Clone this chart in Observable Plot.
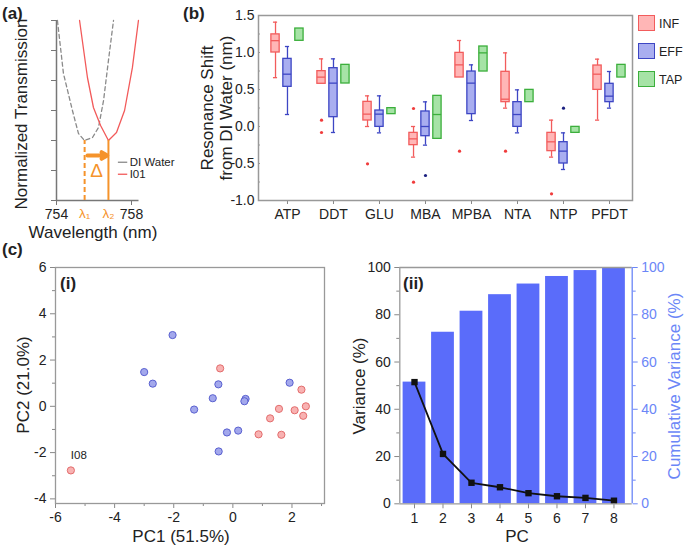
<!DOCTYPE html>
<html><head><meta charset="utf-8">
<script src="https://cdn.jsdelivr.net/npm/d3@7"></script>
<script src="https://cdn.jsdelivr.net/npm/@observablehq/plot@0.6"></script>
<style>
body{margin:0;background:#fff;}
#root{position:relative;width:685px;height:548px;overflow:hidden;font-family:"Liberation Sans",Arial,sans-serif;color:#222;background:#fff;}
.panel{position:absolute;}
.txt{position:absolute;white-space:nowrap;line-height:1;}
</style></head><body><div id="root"></div>
<script>
// ---------- Panel (a) data ----------
const wlDI  = [754.05,754.37,754.85,755.17,755.49,755.92,756.24,756.51,756.77,757.04];
const trDI  = [1.2,0.847,0.6,0.447,0.4,0.42,0.487,0.667,0.933,1.2];
const wlI01 = [755.23,755.65,755.97,756.35,756.77,757.2,757.63,758.05,758.37];
const trI01 = [1.2,0.82,0.62,0.5,0.4,0.453,0.6,0.887,1.2];
const lambda1 = 755.5, lambda2 = 756.77, dipLevel = 0.4;
const wlTicks = [754, 758];
const legendA = ["DI Water", "I01"];

// ---------- Panel (b) data ----------
const analytes = ["ATP","DDT","GLU","MBA","MPBA","NTA","NTP","PFDT"];
const groups = ["INF","EFF","TAP"];
// [whiskerLow, q1, median, q3, whiskerHigh]
const infBox = [[0.66,1.0,1.16,1.245,1.41],[0.577,0.577,0.667,0.748,0.914],[0.0,0.081,0.167,0.333,0.414],[-0.414,-0.252,-0.167,-0.086,0.0],[0.662,0.662,0.833,0.995,1.162],[0.248,0.329,0.369,0.739,0.995],[-0.414,-0.333,-0.207,-0.086,0.086],[0.086,0.495,0.707,0.824,0.91]];
const effBox = [[0.162,0.536,0.707,0.914,1.081],[-0.081,0.126,0.586,0.788,0.914],[-0.086,-0.005,0.167,0.216,0.414],[-0.252,-0.131,0.0,0.203,0.333],[0.081,0.167,0.586,0.743,0.833],[-0.086,-0.005,0.162,0.329,0.495],[-0.581,-0.5,-0.333,-0.212,-0.086],[0.248,0.329,0.41,0.577,0.743]];
const tapBox = [[1.158,1.158,null,1.324,1.324],[0.581,0.581,null,0.833,0.833],[0.167,0.167,null,0.248,0.248],[-0.167,-0.167,0.162,0.414,0.414],[0.743,0.743,0.995,1.081,1.081],[0.329,0.329,null,0.495,0.495],[-0.086,-0.086,null,-0.005,-0.005],[0.662,0.662,null,0.833,0.833]];
const infOutlierCat = ["DDT","DDT","GLU","MBA","MBA","MPBA","NTA","NTP"];
const infOutlierVal = [0.086,-0.081,-0.505,0.243,-0.752,-0.333,-0.333,-0.91];
const effOutlierCat = ["MBA","NTP"];
const effOutlierVal = [-0.662,0.248];
const shiftTicks = [-1.0,-0.5,0.0,0.5,1.0,1.5];

// ---------- Panel (c)(i) data ----------
const pc1Inf = [-0.43,2.32,2.47,2.09,2.38,1.56,1.26,0.87,1.64,-5.48];
const pc2Inf = [1.64,0.72,0.0,-0.17,-0.41,-0.11,-0.52,-1.21,-1.23,-2.77];
const pc1Eff = [-2.04,-3.0,-2.71,-0.49,-0.68,-1.31,0.43,0.39,-0.2,0.18,-0.48,1.92];
const pc2Eff = [3.08,1.48,0.98,0.95,0.35,-0.14,0.32,0.22,-1.13,-1.05,-1.95,1.02];
const labelledSample = "I08";

// ---------- Panel (c)(ii) data ----------
const pcIndex = [1,2,3,4,5,6,7,8];
const variance = [51.5,21.1,8.9,7.0,4.5,3.2,2.5,1.3];
const cumulative = [51.5,72.6,81.5,88.5,93.0,96.2,98.7,100];

// ---------- styling ----------
const FONT = '"Liberation Sans", Arial, sans-serif';
const ORANGE = "#f5932b";
const COL = {
  INF: {fill:"#ffb6b6", stroke:"#f25c5c", out:"#f03c3c"},
  EFF: {fill:"#a9aef0", stroke:"#3d46c4", out:"#1b2080"},
  TAP: {fill:"#a6e3a6", stroke:"#3caf3c", out:"#3caf3c"}
};
const root = document.getElementById("root");
function place(el, left, top) {
  el.classList.add("panel");
  el.style.left = left + "px"; el.style.top = top + "px";
  root.appendChild(el);
}
function txt(s, x, y, o = {}) {
  const d = document.createElement("div");
  d.className = "txt";
  d.textContent = s;
  d.style.left = x + "px"; d.style.top = y + "px";
  d.style.fontSize = (o.size || 17) + "px";
  if (o.bold) d.style.fontWeight = "bold";
  if (o.color) d.style.color = o.color;
  const anchor = o.anchor || "middle";
  const tx = anchor === "start" ? "0" : anchor === "end" ? "-100%" : "-50%";
  d.style.transform = `translate(${tx},-50%)`;
  if (o.rotate) { d.style.transform = `translate(-50%,-50%) rotate(-90deg)`; d.style.textAlign = "center"; d.style.lineHeight = (o.lh || 1.1); }
  root.appendChild(d);
  return d;
}
const baseStyle = {fontFamily: FONT, fontSize: "14px", color: "#222", background: "transparent", overflow: "visible"};

// ================= Panel (a) =================
{
  const di = wlDI.map((w, i) => ({w, t: trDI[i]}));
  const i01 = wlI01.map((w, i) => ({w, t: trI01[i]}));
  const p = Plot.plot({
    width: 180, height: 240,
    marginLeft: 56, marginRight: 41.5, marginTop: 20, marginBottom: 40,
    style: baseStyle,
    x: {domain: [754, 758.4]},
    y: {domain: [0, 1.2]},
    marks: [
      Plot.axisY({ticks: d3.range(0, 1.21, 0.2), tickSize: 5, tickFormat: () => "", label: null, stroke: "#777"}),
      Plot.axisX({ticks: wlTicks, tickSize: 5, tickFormat: d => String(d), label: null, stroke: "#777", fontSize: 14}),
      Plot.ruleX([754], {stroke: "#777", strokeWidth: 1.5}),
      Plot.ruleY([0], {stroke: "#777", strokeWidth: 1.5}),
      Plot.line(di, {x: "w", y: "t", stroke: "#8a8a8a", strokeWidth: 1.3, strokeDasharray: "4,3"}),
      Plot.line(i01, {x: "w", y: "t", stroke: "#f25a5a", strokeWidth: 1.3}),
      Plot.ruleX([lambda1], {y1: 0, y2: dipLevel, stroke: ORANGE, strokeWidth: 2, strokeDasharray: "5,3"}),
      Plot.ruleX([lambda2], {y1: 0, y2: dipLevel, stroke: ORANGE, strokeWidth: 2}),
      Plot.arrow([0], {x1: () => lambda1 + 0.15, x2: () => lambda2 - 0.06, y1: () => dipLevel * 0.75, y2: () => dipLevel * 0.75,
        stroke: ORANGE, strokeWidth: 4, headLength: 9, bend: 0}),
      Plot.text(["Δ"], {x: () => (lambda1 + lambda2) / 2, y: () => dipLevel * 0.5, fill: ORANGE, fontSize: 19}),
      Plot.text(["λ₁", "λ₂"], {x: (d, i) => [lambda1, lambda2][i], y: () => 0, dy: 13, fill: ORANGE, fontSize: 13.5}),
      Plot.ruleY(legendA, {y: (d, i) => [0.255, 0.175][i], x1: () => 757.3, x2: () => 757.8,
        stroke: (d, i) => ["#8a8a8a", "#f25a5a"][i], strokeDasharray: (d, i) => ["3,2", null][i], strokeWidth: 1.3}),
      Plot.text(legendA, {x: () => 757.9, y: (d, i) => [0.255, 0.175][i], text: d => d, textAnchor: "start", fontSize: 11.5, fill: "#222"})
    ]
  });
  place(p, 0, 0);
  txt("(a)", 2, 13, {bold: true, anchor: "start", size: 17});
  txt("Normalized Transmission", 22, 114, {rotate: true, size: 17});
  txt("Wavelength (nm)", 93, 232, {size: 17});
}

// ================= Panel (b) =================
{
  const offsets = {INF: -0.26, EFF: 0, TAP: 0.26};
  const boxData = {INF: infBox, EFF: effBox, TAP: tapBox};
  const hw = 0.09, cw = 0.045;
  const marks = [];
  // inward minor ticks on left
  marks.push(Plot.ruleY(d3.range(-1, 1.51, 0.25), {y: d => d, x1: -0.63, x2: -0.59, stroke: "#888"}));
  for (const g of groups) {
    const rows = boxData[g].map((s, i) => ({x: i + offsets[g], lo: s[0], q1: s[1], med: s[2], q3: s[3], hi: s[4]}));
    const c = COL[g];
    const up = rows.filter(r => r.hi > r.q3), dn = rows.filter(r => r.lo < r.q1);
    marks.push(
      Plot.ruleX(up, {x: "x", y1: "q3", y2: "hi", stroke: c.stroke, strokeWidth: 1.3}),
      Plot.ruleX(dn, {x: "x", y1: "lo", y2: "q1", stroke: c.stroke, strokeWidth: 1.3}),
      Plot.ruleY(up, {y: "hi", x1: d => d.x - cw, x2: d => d.x + cw, stroke: c.stroke, strokeWidth: 1.3}),
      Plot.ruleY(dn, {y: "lo", x1: d => d.x - cw, x2: d => d.x + cw, stroke: c.stroke, strokeWidth: 1.3}),
      Plot.rect(rows, {x1: d => d.x - hw, x2: d => d.x + hw, y1: "q1", y2: "q3", fill: c.fill, stroke: c.stroke, strokeWidth: 1.3}),
      Plot.ruleY(rows.filter(r => r.med != null), {y: "med", x1: d => d.x - hw, x2: d => d.x + hw, stroke: c.stroke, strokeWidth: 1.3})
    );
  }
  marks.push(
    Plot.dot(infOutlierVal, {x: (d, i) => analytes.indexOf(infOutlierCat[i]) + offsets.INF, y: d => d, r: 1.6, fill: COL.INF.out, stroke: "none"}),
    Plot.dot(effOutlierVal, {x: (d, i) => analytes.indexOf(effOutlierCat[i]) + offsets.EFF, y: d => d, r: 1.6, fill: COL.EFF.out, stroke: "none"}),
    Plot.axisY({ticks: shiftTicks, tickSize: 0, tickPadding: 4, tickFormat: d => d.toFixed(1), label: null, fontSize: 14}),
    Plot.axisX({ticks: d3.range(analytes.length), tickSize: 4, tickPadding: 5, tickFormat: i => analytes[i], label: null, fontSize: 14, stroke: "#888"}),
    Plot.frame({stroke: "#999", strokeWidth: 1.5})
  );
  const p = Plot.plot({
    width: 505, height: 240,
    marginLeft: 78, marginRight: 53, marginTop: 15, marginBottom: 40,
    style: baseStyle,
    x: {domain: [-0.63, 7.5]},
    y: {domain: [-1, 1.5]},
    marks
  });
  place(p, 180, 0);
  txt("(b)", 183, 13, {bold: true, anchor: "start", size: 17});
  const yl = txt("", 217, 108, {rotate: true, size: 17});
  yl.innerHTML = "Resonance Shift<br>from DI Water (nm)";
  yl.style.lineHeight = "19px";
  // legend
  groups.forEach((g, i) => {
    const sw = document.createElement("div");
    sw.style.cssText = `position:absolute;left:638px;top:${15 + i * 28}px;width:17px;height:16px;background:${COL[g].fill};border:1.3px solid ${COL[g].stroke};box-sizing:border-box;`;
    root.appendChild(sw);
    txt(g, 659, 23.5 + i * 28, {anchor: "start", size: 12.5});
  });
}

// ================= Panel (c)(i) =================
{
  const inf = pc1Inf.map((x, i) => ({x, y: pc2Inf[i]}));
  const eff = pc1Eff.map((x, i) => ({x, y: pc2Eff[i]}));
  const p = Plot.plot({
    width: 340, height: 298,
    marginLeft: 55, marginRight: 16, marginTop: 17, marginBottom: 45,
    style: baseStyle,
    x: {domain: [-6, 3.1]},
    y: {domain: [-4.2, 6]},
    marks: [
      Plot.axisX({ticks: [-5, -3, -1, 1, 3], tickSize: 3, tickFormat: () => "", label: null, stroke: "#888"}),
      Plot.axisY({ticks: [-3, -1, 1, 3, 5], tickSize: 3, tickFormat: () => "", label: null, stroke: "#888"}),
      Plot.axisX({ticks: [-6, -4, -2, 0, 2], tickSize: 5, tickFormat: d => String(d), label: null, fontSize: 14, stroke: "#888"}),
      Plot.axisY({ticks: [-4, -2, 0, 2, 4, 6], tickSize: 5, tickFormat: d => String(d), label: null, fontSize: 14, stroke: "#888"}),
      Plot.frame({stroke: "#999", strokeWidth: 1.3}),
      Plot.dot(eff, {x: "x", y: "y", r: 3.6, fill: "#a3a8ec", stroke: "#5960d0", strokeWidth: 1}),
      Plot.dot(inf, {x: "x", y: "y", r: 3.6, fill: "#f8b2b2", stroke: "#e36c6c", strokeWidth: 1}),
      Plot.text([labelledSample], {x: () => pc1Inf[pc1Inf.length - 1], y: () => pc2Inf[pc2Inf.length - 1], dx: 8, dy: -15, text: d => d, fontSize: 11.5, fill: "#222"})
    ]
  });
  place(p, 0, 250);
  txt("(c)", 2, 249, {bold: true, anchor: "start", size: 17});
  txt("(i)", 60, 283, {bold: true, anchor: "start", size: 17});
  txt("PC2 (21.0%)", 24, 385, {rotate: true, size: 17});
  txt("PC1 (51.5%)", 181, 536, {size: 17});
}

// ================= Panel (c)(ii) =================
{
  const rows = pcIndex.map((k, i) => ({k, v: variance[i], c: cumulative[i]}));
  const BLUE = "#5a6cfa", AX = "#6b86f7";
  const p = Plot.plot({
    width: 345, height: 298,
    marginLeft: 59.3, marginRight: 53.3, marginTop: 17, marginBottom: 44.7,
    style: baseStyle,
    x: {domain: [0.484, 8.64]},
    y: {domain: [0, 100]},
    marks: [
      Plot.rectY(rows, {x1: d => d.k - 0.4, x2: d => d.k + 0.4, y1: 0, y2: "c", fill: BLUE}),
      Plot.line(rows, {x: "k", y: "v", stroke: "#111", strokeWidth: 1.8}),
      Plot.dot(rows, {x: "k", y: "v", symbol: "square", r: 3.6, fill: "#111", stroke: "none"}),
      Plot.axisX({ticks: pcIndex, tickSize: 5, tickFormat: d => String(d), label: null, fontSize: 14, stroke: "#888"}),
      Plot.axisY({ticks: [10, 30, 50, 70, 90], tickSize: 3, tickFormat: () => "", label: null, stroke: "#888"}),
      Plot.axisY({ticks: d3.range(0, 101, 20), tickSize: 5, tickFormat: d => String(d), label: null, fontSize: 14, stroke: "#888"}),
      Plot.axisY({anchor: "right", ticks: [10, 30, 50, 70, 90], tickSize: 3, tickFormat: () => "", label: null, stroke: AX}),
      Plot.axisY({anchor: "right", ticks: d3.range(0, 101, 20), tickSize: 5, tickFormat: d => String(d), label: null, fontSize: 14, stroke: AX, fill: AX}),
      Plot.ruleY([0], {stroke: "#999", strokeWidth: 1.3}),
      Plot.ruleY([100], {stroke: "#999", strokeWidth: 1.3}),
      Plot.ruleX([0.484], {stroke: "#999", strokeWidth: 1.3}),
      Plot.ruleX([8.64], {stroke: AX, strokeWidth: 1.3})
    ]
  });
  place(p, 340, 250);
  txt("(ii)", 403, 283, {bold: true, anchor: "start", size: 17});
  txt("Variance (%)", 360, 386, {rotate: true, size: 17});
  txt("Cumulative Variance (%)", 675, 386, {rotate: true, size: 17, color: "#6b86f7"});
  txt("PC", 517, 536, {size: 17});
}
</script></body></html>
